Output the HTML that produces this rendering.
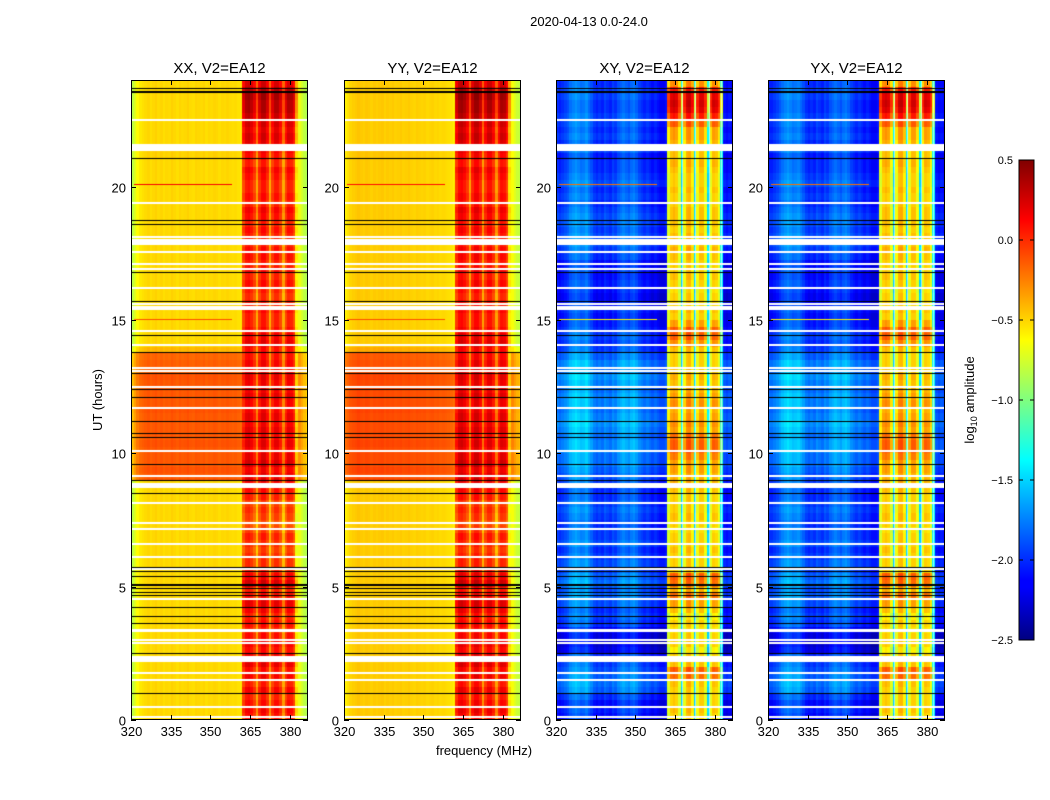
<!DOCTYPE html>
<html><head><meta charset="utf-8"><style>
body{margin:0;background:#fff;width:1050px;height:800px;overflow:hidden;position:relative;font-family:"Liberation Sans",sans-serif}
canvas{position:absolute}
svg{position:absolute;left:0;top:0}
</style></head><body>
<canvas id="c0" width="177" height="640" style="left:131px;top:80px"></canvas>
<canvas id="c1" width="177" height="640" style="left:344px;top:80px"></canvas>
<canvas id="c2" width="177" height="640" style="left:556px;top:80px"></canvas>
<canvas id="c3" width="177" height="640" style="left:768px;top:80px"></canvas>
<svg id="ax" width="1050" height="800">
<defs><linearGradient id="jet" x1="0" y1="1" x2="0" y2="0">
<stop offset="0" stop-color="#000080"/><stop offset="0.11" stop-color="#0000ff"/><stop offset="0.125" stop-color="#0000ff"/><stop offset="0.375" stop-color="#00ffff"/><stop offset="0.625" stop-color="#ffff00"/><stop offset="0.875" stop-color="#ff0000"/><stop offset="1" stop-color="#800000"/></linearGradient></defs>
<text x="589" y="26" font-size="13" text-anchor="middle">2020-04-13 0.0-24.0</text>
<text x="484" y="755" font-size="13" text-anchor="middle">frequency (MHz)</text>
<text x="0" y="0" font-size="13" text-anchor="middle" transform="translate(102,400) rotate(-90)">UT (hours)</text>
<rect x="1019" y="160" width="15" height="480" fill="url(#jet)" stroke="#000" stroke-width="1"/>
<text x="0" y="0" font-size="13" text-anchor="middle" transform="translate(974,400) rotate(-90)">log<tspan font-size="9" dy="3">10</tspan><tspan dy="-3"> amplitude</tspan></text>
</svg>
<script>
// ---- data ----
const fMin=320, fMax=386.8, tMin=0, tMax=24;
const panelTitles=["XX, V2=EA12","YY, V2=EA12","XY, V2=EA12","YX, V2=EA12"];
const xTicks=[320,335,350,365,380];
const yTicks=[0,5,10,15,20];
const cbTicks=[-2.5,-2.0,-1.5,-1.0,-0.5,0.0,0.5];
const cbLabels=["\u22122.5","\u22122.0","\u22121.5","\u22121.0","\u22120.5","0.0","0.5"];
// channel profiles, 1 MHz channels 320..386
const xxProfile=[-0.82,-0.72,-0.62,-0.56,-0.54,-0.52,-0.5,-0.53,-0.51,-0.49,-0.52,-0.5,-0.53,-0.51,-0.52,-0.49,-0.51,-0.53,-0.5,-0.52,-0.51,-0.49,-0.52,-0.53,-0.5,-0.51,-0.52,-0.5,-0.53,-0.51,-0.52,-0.5,-0.51,-0.53,-0.51,-0.52,-0.5,-0.52,-0.53,-0.52,-0.54,-0.56,
 -0.1,0.05,0.08,0.02,-0.1,-0.38,-0.05,0.08,0.08,-0.05,-0.38,-0.08,0.05,0.05,-0.08,-0.38,-0.08,0.05,0.02,-0.1,-0.6,-0.68,-0.75,-0.82,-0.88];
const yyProfile=[-0.58,-0.54,-0.5,-0.48,-0.47,-0.45,-0.47,-0.48,-0.46,-0.47,-0.49,-0.47,-0.48,-0.47,-0.46,-0.49,-0.47,-0.48,-0.47,-0.49,-0.48,-0.47,-0.49,-0.48,-0.47,-0.49,-0.5,-0.48,-0.49,-0.5,-0.49,-0.51,-0.5,-0.49,-0.51,-0.5,-0.52,-0.51,-0.52,-0.53,-0.55,-0.58,
 -0.05,0.1,0.12,0.06,-0.05,-0.35,0.0,0.12,0.12,0.0,-0.35,-0.05,0.08,0.08,-0.05,-0.35,-0.05,0.08,0.05,-0.08,-0.58,-0.65,-0.72,-0.78,-0.82];
const xyProfile=[-2.0,-2.05,-2.0,-1.95,-1.9,-1.8,-1.75,-1.7,-1.75,-1.8,-1.78,-1.72,-1.82,-1.9,-2.0,-2.05,-2.0,-2.05,-1.95,-2.0,-2.05,-1.95,-2.0,-1.9,-1.85,-1.8,-1.85,-1.9,-1.82,-1.78,-1.85,-1.95,-2.0,-2.05,-2.0,-2.05,-2.1,-2.05,-2.1,-2.15,-2.15,-2.1,
 -0.75,-0.5,-0.45,-0.5,-0.75,-1.5,-0.7,-0.45,-0.42,-0.6,-1.5,-0.7,-0.48,-0.48,-0.7,-1.5,-0.7,-0.48,-0.52,-0.7,-1.4,-2.1,-2.15,-2.1,-2.15];
const yxProfile=[-2.05,-2.05,-2.0,-1.95,-1.88,-1.8,-1.75,-1.7,-1.75,-1.8,-1.78,-1.75,-1.82,-1.9,-2.0,-2.05,-2.0,-2.05,-1.95,-2.0,-2.05,-1.95,-2.0,-1.9,-1.85,-1.8,-1.85,-1.9,-1.82,-1.78,-1.85,-1.95,-2.0,-2.05,-2.0,-2.05,-2.1,-2.05,-2.1,-2.15,-2.15,-2.1,
 -0.75,-0.5,-0.45,-0.5,-0.75,-1.5,-0.7,-0.45,-0.42,-0.6,-1.5,-0.7,-0.48,-0.48,-0.7,-1.5,-0.7,-0.48,-0.52,-0.7,-1.4,-2.1,-2.15,-2.1,-2.15];
const bandStart=362, bandEnd=382;
// per quarter-hour row offsets (96 rows, 0h..24h)
const parLow=[0,0,0,0, 0,0,0,0, 0,0,0,0, 0,0,0,0, 0,0,0,0, 0,0,0,0, 0,0,0,0, 0,0,0,0, 0,0,0,0,
 0.38,0.4,0.38,0.38, 0.38,0.4,0.38,0.38, 0.38,0.38,0.4,0.38, 0.38,0.38,0.38,0.4, 0.36,0.36,0.34,0.1,
 0,0,0,0, 0,0,0,0, 0,0,0,0, 0,0,0,0, 0,0,0,0, 0,0,0,0, 0,0,0,0, 0.02,0.02,0,0, 0,0,0,0, 0,0,0,0];
const parHigh=[0.05,0.1,0.05,0, 0.1,0,0.1,0.05, 0.15,0.1,0.05,0.1, 0.05,0,0.05,0, 0.1,0.15,0.05,0, 0.2,0.1,0,-0.05,
 -0.05,-0.1,-0.05,0, -0.1,-0.15,-0.1,-0.05, -0.1,0,0.05,0.1, 0.15,0.1,0.2,0.15, 0.1,0.15,0.1,0.15, 0.1,0.15,0.1,0.1,
 0.15,0.1,0.1,0.15, 0.1,0.1,0.05,0.05, 0.15,0.1,0.05,0, 0,0.05,0,-0.05, 0,0.05,0,0.05, 0,0.05,0.05,0,
 0,0.05,0,0.05, 0.1,0,0.05,0, 0,0.05,0.1,0, 0.05,0.1,0.15,0.2, 0.15,0.2,0.25,0.3, 0.3,0.35,0.3,0.2];
const crossLow=[-0.1,-0.05,-0.1,0, 0.15,0.2,0.15,0.1, 0.05,0,-0.2,-0.25, -0.2,-0.15,0,0.05, 0,0.1,0.15,0.1, 0.2,0.15,0.05,0.1,
 0.05,0,0.1,0.05, 0.05,0,0.05,0.1, 0.05,0,0,0.05, 0.1,0.15,0.2,0.2, 0.25,0.25,0.2,0.25, 0.3,0.25,0.2,0.25,
 0.25,0.2,0.25,0.3, 0.2,0.25,0.15,0.05, 0,0.05,0,-0.05, -0.1,-0.05,-0.1,-0.15, -0.1,-0.05,-0.1,-0.05, -0.1,0,0.05,0.1,
 0.1,0.05,0.1,0.1, 0.05,0,0.05,0, 0.1,0.05,0,0, -0.05,0.05,0,0.05, 0,0.05,0.05,0, 0,0.05,0.05,0];
const crossHigh=[0,0.05,0,0, 0,0.05,0.3,0.35, 0.05,0,-0.1,0, 0,-0.05,0,-0.1, 0.05,0.15,0.3,0.1, 0.3,0.35,0,0,
 0,0.05,0,0, -0.05,0,0.05,0, 0,0,0.05,0.1, 0.1,0.15,0.15,0.25, 0.35,0.35,0.3,0.15, 0.2,0.15,0.1,0.2,
 0.15,0.1,0.05,0.1, 0.05,0,0,0.05, 0.2,0.35,0.35,0.15, 0,0.05,0,0, -0.05,0,0.05,0, 0,0.05,0.1,0.05,
 0.05,0,0.05,0.05, 0.05,0,0,0.05, 0,0,0.05,0.1, 0.05,0.05,0.1,0.15, 0.15,0.35,0.55,0.7, 0.75,0.7,0.55,0.2];
// flagged times (hours)
const whiteLines=[22.5,21.37,19.4,18.1,17.55,17.1,16.9,16.2,15.6,15.5,15.4,14.6,14.06,13.2,13.1,12.5,11.7,10.1,9.15,8.15,7.4,7.15,6.6,6.1,5.65,4.55,3.0,2.9,1.75,1.5,0.5,0.1];
const whiteBands=[[21.42,21.6],[17.82,18.05],[8.7,8.88],[3.3,3.4],[2.18,2.4]];
const blackLines=[23.7,23.6,23.55,21.07,18.75,18.6,16.8,15.7,14.45,13.8,13.0,12.4,12.1,11.2,10.75,10.6,9.6,9.0,8.5,5.75,5.6,5.4,5.1,5.05,4.95,4.8,4.7,4.25,3.9,3.65,2.5,1.0];
const rfiTimes=[20.05,15.0];
const rfiValues=[[0.15,-0.1],[0.1,-0.1],[-0.2,-0.6],[-0.2,-0.6]];

const panels=[
 {prof:xxProfile,low:parLow,high:parHigh},
 {prof:yyProfile,low:parLow,high:parHigh},
 {prof:xyProfile,low:crossLow,high:crossHigh},
 {prof:yxProfile,low:crossLow,high:crossHigh}];
const lefts=[131,344,556,768], W=177, TOP=80, H=640;

function xs(f){return (f-fMin)/(fMax-fMin)*W;}
function ys(t){return H-(t-tMin)/(tMax-tMin)*H;}
function jet(v){
 let t=(v+2.5)/3; t=Math.max(0,Math.min(1,t));
 const c=x=>Math.round(255*Math.max(0,Math.min(1,x)));
 return `rgb(${c(1.5-Math.abs(4*t-3))},${c(1.5-Math.abs(4*t-2))},${c(1.5-Math.abs(4*t-1))})`;
}
panels.forEach((p,pi)=>{
 const ctx=document.getElementById('c'+pi).getContext('2d');
 const nRows=p.low.length, dt=(tMax-tMin)/nRows;
 for(let r=0;r<nRows;r++){
  const y0=Math.round(ys(tMin+(r+1)*dt)), y1=Math.round(ys(tMin+r*dt));
  for(let c=0;c<p.prof.length;c++){
   const f=fMin+c;
   const x0=Math.round(xs(f)), x1=Math.round(xs(Math.min(f+1,fMax)));
   const inBand=f>=bandStart&&f<=bandEnd;
   const v=p.prof[c]+(inBand?p.high[r]:p.low[r]);
   ctx.fillStyle=jet(v);
   ctx.fillRect(x0,y0,x1-x0,y1-y0);
  }
 }
 rfiTimes.forEach((t,i)=>{
  ctx.fillStyle=jet(rfiValues[pi][i]);
  ctx.fillRect(Math.round(xs(321)),Math.round(ys(t))-1,Math.round(xs(358)-xs(321)),1);
 });
 if(pi>=2){ctx.fillStyle='rgba(255,255,255,0.6)';[367.4,372.5,377.6,382.4].forEach(f=>ctx.fillRect(Math.round(xs(f)),0,1,H));}
 ctx.fillStyle='#fff';
 whiteLines.forEach(t=>ctx.fillRect(0,Math.round(ys(t))-1,W,2));
 whiteBands.forEach(b=>ctx.fillRect(0,Math.round(ys(b[1])),W,Math.round(ys(b[0])-ys(b[1]))));
 ctx.fillStyle='#000';
 blackLines.forEach(t=>ctx.fillRect(0,Math.round(ys(t)),W,1));
});
// axes
const svg=document.getElementById('ax'), NS='http://www.w3.org/2000/svg';
function mk(tag,attrs,txt){const e=document.createElementNS(NS,tag);for(const k in attrs)e.setAttribute(k,attrs[k]);if(txt!==undefined)e.textContent=txt;svg.appendChild(e);return e;}
panels.forEach((p,pi)=>{
 const L=lefts[pi];
 const fr=mk('rect',{x:L+0.5,y:TOP+0.5,width:W-1,height:H-1,fill:'none',stroke:'#000','stroke-width':1});
 
 
 const ti=mk('text',{x:L+W/2,y:73,'font-size':15,'text-anchor':'middle'},panelTitles[pi]);
 
 
 xTicks.forEach(f=>{
  const x=L+Math.round(xs(f))+0.5;
  mk('line',{x1:x,x2:x,y1:TOP+H,y2:TOP+H-5,stroke:'#000'});
  mk('line',{x1:x,x2:x,y1:TOP,y2:TOP+5,stroke:'#000'});
  const t=mk('text',{x:x,y:TOP+H+16,'font-size':13,'text-anchor':'middle'},String(f));
  
  
 });
 yTicks.forEach(v=>{
  const y=TOP+Math.round(ys(v))+0.5;
  mk('line',{x1:L,x2:L+5,y1:y,y2:y,stroke:'#000'});
  mk('line',{x1:L+W,x2:L+W-5,y1:y,y2:y,stroke:'#000'});
  const t=mk('text',{x:L-5,y:y+5,'font-size':13,'text-anchor':'end'},String(v));
  
  
 });
});
cbTicks.forEach((v,i)=>{
 const y=640-(v+2.5)/3*480;
 mk('line',{x1:1019,x2:1023,y1:y,y2:y,stroke:'#000'});
 mk('line',{x1:1034,x2:1030,y1:y,y2:y,stroke:'#000'});
 const t=mk('text',{x:1013,y:y+4,'font-size':11,'text-anchor':'end'},cbLabels[i]);
 
 
});
</script>
</body></html>
